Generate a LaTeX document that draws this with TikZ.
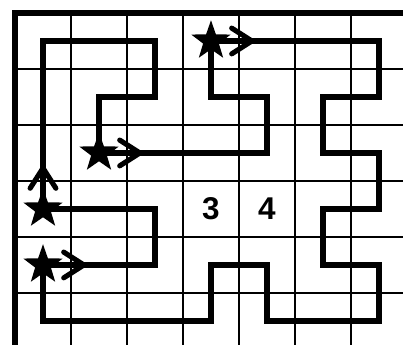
\documentclass[tikz,border=0pt]{standalone}
\usepackage{fontspec}
\setsansfont{Liberation Sans}
\usepackage{tikz}
\usetikzlibrary{shapes.geometric}

\begin{document}
\begin{tikzpicture}[
  font=\sffamily\bfseries\fontsize{16}{16}\selectfont,
  gridline/.style={line width=1pt},
  border/.style={line width=2.6pt},
  loop/.style={line width=2.6pt, miter limit=10},
  chev/.style={line width=2.6pt, line cap=round, line join=miter},
  starmark/.style={star, star points=5, star point ratio=2.5, minimum size=0.74cm, inner sep=0pt, fill=black}
]
\useasboundingbox (-0.268,0.232) rectangle (6.929,-5.929);
\clip (-0.268,0.232) rectangle (6.929,-5.929);
% grid and outer edge
\draw[gridline] (0,0) grid (7.5,-6.5);
\draw[border] (0,-6.5) -- (0,0) -- (7.5,0);
% the loop
\draw[loop] (0.5,-3.5) -- (0.5,-0.5) -- (2.5,-0.5) -- (2.5,-1.5) -- (1.5,-1.5)
  -- (1.5,-2.5) -- (4.5,-2.5) -- (4.5,-1.5) -- (3.5,-1.5) -- (3.5,-0.5)
  -- (6.5,-0.5) -- (6.5,-1.5) -- (5.5,-1.5) -- (5.5,-2.5) -- (6.5,-2.5)
  -- (6.5,-3.5) -- (5.5,-3.5) -- (5.5,-4.5) -- (6.5,-4.5) -- (6.5,-5.5)
  -- (4.5,-5.5) -- (4.5,-4.5) -- (3.5,-4.5) -- (3.5,-5.5) -- (0.5,-5.5)
  -- (0.5,-4.5) -- (2.5,-4.5) -- (2.5,-3.5) -- cycle;
% stars
\node[starmark] (s1) at (3.5,-0.5) {};
\node[starmark] (s2) at (1.5,-2.5) {};
\node[starmark] (s3) at (0.5,-3.5) {};
\node[starmark] (s4) at (0.5,-4.5) {};
% arrows
\draw[chev, shift={(s1.center)}] (0.37,0.23) -- (0.73,0) -- (0.37,-0.23);
\draw[chev, shift={(s2.center)}] (0.37,0.23) -- (0.73,0) -- (0.37,-0.23);
\draw[chev, shift={(s3.center)}, rotate=90] (0.37,0.23) -- (0.73,0) -- (0.37,-0.23);
\draw[chev, shift={(s4.center)}] (0.37,0.23) -- (0.73,0) -- (0.37,-0.23);
% clues
\node (n3) at (3.5,-3.5) {3};
\node (n4) at (4.5,-3.5) {4};
\end{tikzpicture}
\end{document}
